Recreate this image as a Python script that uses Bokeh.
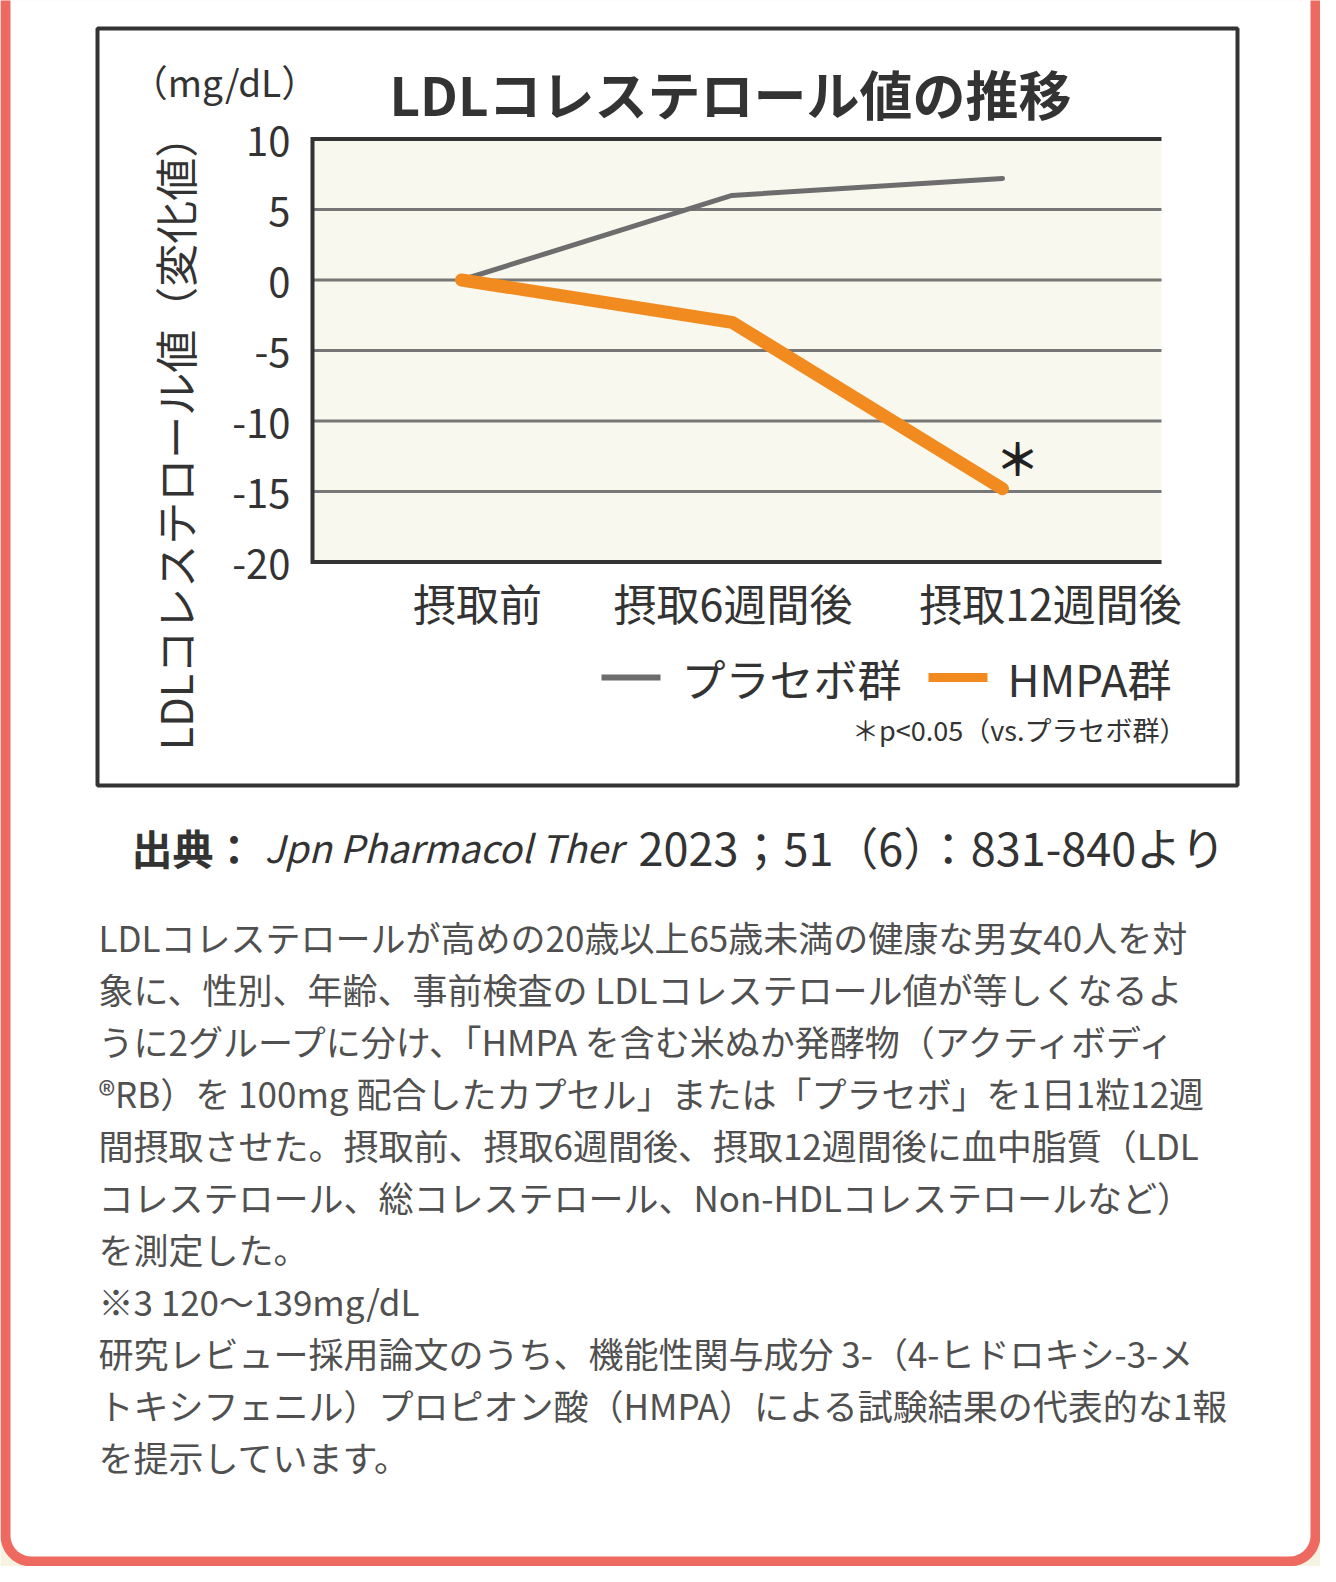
import numpy as np
from bokeh.plotting import figure
from bokeh.models import Range1d, ColumnDataSource
from bokeh.core.properties import value
from bokeh.embed import file_html
from bokeh.resources import INLINE

# ---------------- data ----------------
categories = ["摂取前", "摂取6週間後", "摂取12週間後"]
series_names = ["プラセボ群", "HMPA群"]
placebo = [0.0, 6.0, 7.2]
hmpa = [0.0, -3.0, -14.8]
y_ticks = [10, 5, 0, -5, -10, -15, -20]
y_tick_labels = ["10", "5", "0", "-5", "-10", "-15", "-20"]
grid_values = [5, 0, -5, -10, -15]
y_min, y_max = -20, 10
significant_index = 2
title_text = "LDLコレステロール値の推移"
y_unit = "（mg/dL）"
y_axis_title = "LDLコレステロール値（変化値）"
footnote = "＊p<0.05（vs.プラセボ群）"
source_parts = ["出典：", "Jpn Pharmacol Ther", "2023；51（6）：831-840より"]
body_lines = [
    "LDLコレステロールが高めの20歳以上65歳未満の健康な男女40人を対",
    "象に、性別、年齢、事前検査の LDLコレステロール値が等しくなるよ",
    "うに2グループに分け、「HMPA を含む米ぬか発酵物（アクティボディ",
    "®RB）を 100mg 配合したカプセル」または「プラセボ」を1日1粒12週",
    "間摂取させた。摂取前、摂取6週間後、摂取12週間後に血中脂質（LDL",
    "コレステロール、総コレステロール、Non-HDLコレステロールなど）",
    "を測定した。",
    "※3  120～139mg/dL",
    "研究レビュー採用論文のうち、機能性関与成分 3-（4-ヒドロキシ-3-メ",
    "トキシフェニル）プロピオン酸（HMPA）による試験結果の代表的な1報",
    "を提示しています。",
]

# ---------------- layout (canvas pixels) ----------------
FIG_W, FIG_H = 1320, 1566
PLOT_L, PLOT_R = 312, 1161
ZERO_PX, PX_PER_UNIT = 279.5, 14.1
CAT0_PX, CAT_STEP = 461.0, 270.5
FONT = value("Noto Sans CJK JP")
DARK = "#333333"

p = figure(width=FIG_W, height=FIG_H,
           x_range=Range1d(0, FIG_W), y_range=Range1d(FIG_H, 0),
           x_axis_type=None, y_axis_type=None,
           toolbar_location=None, output_backend="svg", min_border=0)
p.grid.visible = False
p.outline_line_color = None
p.background_fill_color = "#f7f3e3"
p.border_fill_color = "#f7f3e3"

p.extra_x_ranges = {"cx": Range1d((0 - CAT0_PX) / CAT_STEP, (FIG_W - CAT0_PX) / CAT_STEP)}
p.extra_y_ranges = {"cy": Range1d((ZERO_PX - FIG_H) / PX_PER_UNIT, ZERO_PX / PX_PER_UNIT)}

# ---- card with rounded bottom corners ----
R = 26
L_, Rt, B_ = 5, FIG_W - 5, FIG_H - 5
t1 = np.linspace(np.pi, np.pi / 2, 16)
t2 = np.linspace(np.pi / 2, 0, 16)
xs = [L_] + list(L_ + R + R * np.cos(t1)) + list(Rt - R + R * np.cos(t2)) + [Rt]
ys = [-100] + list(B_ - R + R * np.sin(t1)) + list(B_ - R + R * np.sin(t2)) + [-100]
p.patch(xs, ys, fill_color="white", line_color="#ee6a60", line_width=10)

# ---- chart box ----
p.quad(left=[97], right=[1237], top=[28], bottom=[785], fill_color=None,
       line_color=DARK, line_width=4)

# ---- plot area ----
p.quad(left=[PLOT_L], right=[PLOT_R], top=[y_max], bottom=[y_min],
       y_range_name="cy", fill_color="#f9f8ee", line_color=None)
n = len(grid_values)
p.segment(x0=[PLOT_L] * n, x1=[PLOT_R] * n, y0=grid_values, y1=grid_values,
          y_range_name="cy", line_color="#777777", line_width=3)
p.multi_line(xs=[[PLOT_R, PLOT_L, PLOT_L, PLOT_R]], ys=[[y_max, y_max, y_min, y_min]],
             y_range_name="cy", line_color=DARK, line_width=4, line_join="miter")

# ---- series ----
xi = list(range(len(categories)))
p.line(xi, placebo, x_range_name="cx", y_range_name="cy",
       line_color="#6d6d6d", line_width=5, line_cap="round", line_join="round")
p.line(xi, hmpa, x_range_name="cx", y_range_name="cy",
       line_color="#f18b20", line_width=13, line_cap="round", line_join="round")
p.text(x=[significant_index], y=[hmpa[significant_index]], text=["＊"],
       x_range_name="cx", y_range_name="cy", x_offset=15, y_offset=-32,
       text_font=FONT, text_font_size="44px", text_color="#222222",
       text_align="center", text_baseline="middle", text_font_style="bold")

# ---- y tick labels ----
p.text(x=[290] * len(y_ticks), y=y_ticks, text=y_tick_labels, y_range_name="cy",
       y_offset=2, text_font=FONT, text_font_size="40px", text_color=DARK,
       text_align="right", text_baseline="middle")

# ---- category labels ----
cat_src = ColumnDataSource(dict(x=xi, y=[y_min] * len(xi), text=categories,
                                xo=[16, 1, 48]))
p.text(x="x", y="y", text="text", x_offset="xo", y_offset=40, source=cat_src,
       x_range_name="cx", y_range_name="cy", text_font=FONT, text_font_size="43px",
       text_color=DARK, text_align="center", text_baseline="middle")

# ---- titles ----
p.text(x=[730], y=[92], text=[title_text], text_font=FONT, text_font_size="53px",
       text_font_style="bold", text_color=DARK, text_align="center", text_baseline="middle")
p.text(x=[224], y=[80], text=[y_unit], text_font=FONT, text_font_size="37px",
       text_color=DARK, text_align="center", text_baseline="middle")
p.text(x=[173], y=[432], text=[y_axis_title], angle=np.pi / 2, text_font=FONT,
       text_font_size="43px", text_color=DARK, text_align="center", text_baseline="middle")

# ---- legend ----
p.segment(x0=[601], x1=[660], y0=[677], y1=[677], line_color="#6d6d6d", line_width=6)
p.text(x=[681], y=[677], text=[series_names[0]], text_font=FONT, text_font_size="44px",
       text_color=DARK, text_align="left", text_baseline="middle")
p.segment(x0=[928], x1=[987], y0=[677], y1=[677], line_color="#f18b20", line_width=9)
p.text(x=[1007], y=[677], text=[series_names[1]], text_font=FONT, text_font_size="44px",
       text_color=DARK, text_align="left", text_baseline="middle")
p.text(x=[1186], y=[729], text=[footnote], text_font=FONT, text_font_size="27px",
       text_color=DARK, text_align="right", text_baseline="middle")

# ---- source line ----
p.text(x=[131], y=[846], text=[source_parts[0]], text_font=FONT, text_font_size="41px",
       text_font_style="bold", text_color=DARK, text_align="left", text_baseline="middle")
p.text(x=[264], y=[846], text=[source_parts[1]], text_font=FONT, text_font_size="38px",
       text_font_style="italic", text_color=DARK, text_align="left", text_baseline="middle")
p.text(x=[638], y=[846], text=[source_parts[2]], text_font=FONT, text_font_size="45px",
       text_color=DARK, text_align="left", text_baseline="middle")

# ---- body text ----
body_y = [936 + 52 * i for i in range(len(body_lines))]
p.text(x=[98] * len(body_lines), y=body_y, text=body_lines, text_font=FONT,
       text_font_size="35px", text_color="#505050", text_align="left",
       text_baseline="middle")

open("out.html", "w").write(file_html(p, INLINE))
